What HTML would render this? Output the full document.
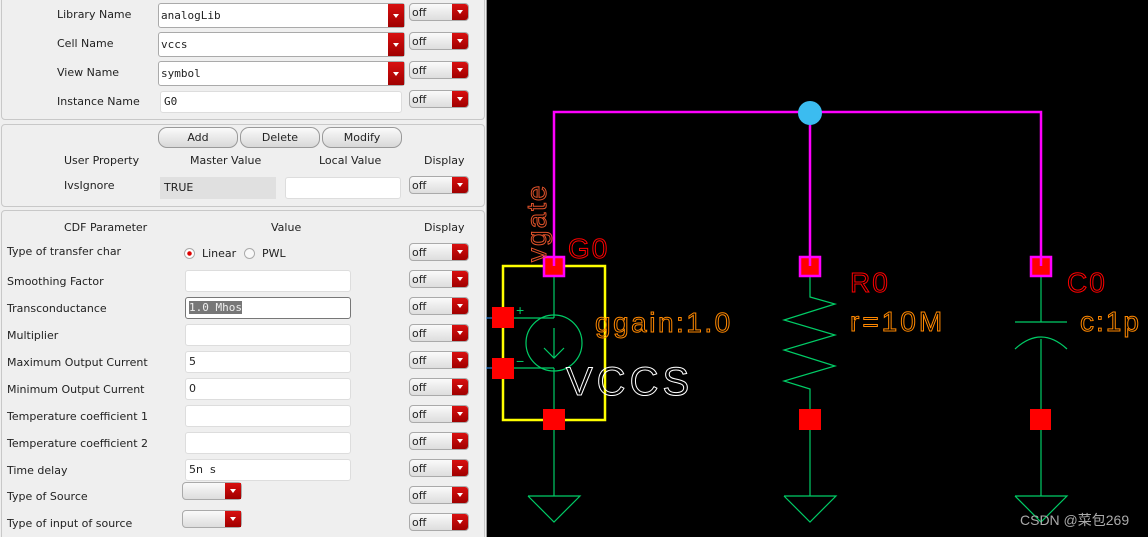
<!DOCTYPE html>
<html><head><meta charset="utf-8"><style>
html,body{margin:0;width:1148px;height:537px;overflow:hidden}
body{background:#000;position:relative;font-family:"DejaVu Sans","Liberation Sans",sans-serif;font-size:11px;color:#222}
.a{position:absolute}
#left{position:absolute;left:0;top:0;width:487px;height:537px;background:#efefef;border-right:1px solid #999;box-sizing:border-box;overflow:hidden}
.pan{position:absolute;left:1px;width:484px;border:1px solid #c8c8c8;border-radius:4px;box-sizing:border-box}
.off{position:absolute;left:409px;width:60px;height:18px;border:1px solid #aaa;border-radius:4px;box-sizing:border-box;background:linear-gradient(#fafafa,#ddd);overflow:hidden;font-size:11px;line-height:17px;padding-left:2px}
.off:after,.dd:after{content:"";position:absolute;right:0;top:0;width:16px;height:100%;background:linear-gradient(#d81010,#a00000)}
.off:before,.dd:before{content:"";position:absolute;right:5px;top:6px;border-left:3px solid transparent;border-right:3px solid transparent;border-top:4px solid #fff;z-index:2}
.dd{position:absolute;width:60px;height:18px;border:1px solid #aaa;border-radius:4px;box-sizing:border-box;background:linear-gradient(#fafafa,#ddd)}
.cb{position:absolute;left:158px;width:247px;height:25px;border:1px solid #aaa;border-radius:3px;box-sizing:border-box;background:#fff;font-family:"DejaVu Sans Mono","Liberation Mono",monospace;font-size:11px;line-height:23px;padding-left:2px}
.cb:after{content:"";position:absolute;right:0;top:0;width:16px;height:100%;background:linear-gradient(#d81010,#a00000)}
.cb:before{content:"";position:absolute;right:5px;top:10px;border-left:3px solid transparent;border-right:3px solid transparent;border-top:4px solid #fff;z-index:2}
.f{position:absolute;left:185px;width:166px;height:22px;background:#fff;border:1px solid #ddd;border-radius:3px;box-sizing:border-box;font-size:11px;line-height:20px;padding-left:3px}
.btn{position:absolute;top:127px;height:21px;border:1px solid #999;border-radius:9px;background:linear-gradient(#fafafa,#d8d8d8);box-sizing:border-box;text-align:center;line-height:19px}
.l{position:absolute;left:7px}
</style></head><body>
<div id="left">
<div class="pan" style="top:-4px;height:124px"></div>
<div class="pan" style="top:124px;height:83px"></div>
<div class="pan" style="top:210px;height:340px"></div>
<div class="a" style="left:57px;top:8px">Library Name</div>
<div class="a" style="left:57px;top:37px">Cell Name</div>
<div class="a" style="left:57px;top:66px">View Name</div>
<div class="a" style="left:57px;top:95px">Instance Name</div>
<div class="cb" style="top:3px">analogLib</div>
<div class="cb" style="top:32px">vccs</div>
<div class="cb" style="top:61px">symbol</div>
<div class="f" style="left:160px;top:91px;width:242px;font-family:'DejaVu Sans Mono',monospace">G0</div>
<div class="off" style="top:3px">off</div>
<div class="off" style="top:32px">off</div>
<div class="off" style="top:61px">off</div>
<div class="off" style="top:90px">off</div>
<div class="btn" style="left:158px;width:80px">Add</div>
<div class="btn" style="left:240px;width:80px">Delete</div>
<div class="btn" style="left:322px;width:80px">Modify</div>
<div class="a" style="left:64px;top:154px">User Property</div>
<div class="a" style="left:190px;top:154px">Master Value</div>
<div class="a" style="left:319px;top:154px">Local Value</div>
<div class="a" style="left:424px;top:154px">Display</div>
<div class="a" style="left:64px;top:179px">IvsIgnore</div>
<div class="a" style="left:160px;top:177px;width:116px;height:22px;background:#e0e0e0;line-height:22px;padding-left:4px;box-sizing:border-box">TRUE</div>
<div class="f" style="left:285px;top:177px;width:116px"></div>
<div class="off" style="top:176px">off</div>
<div class="a" style="left:64px;top:221px">CDF Parameter</div>
<div class="a" style="left:271px;top:221px">Value</div>
<div class="a" style="left:424px;top:221px">Display</div>
<div class="l" style="top:245px">Type of transfer char</div>
<div class="a" style="left:184px;top:248px;width:11px;height:11px;border-radius:50%;background:radial-gradient(#d00 30%,#fff 40%);border:1px solid #aaa;box-sizing:border-box"></div>
<div class="a" style="left:202px;top:247px">Linear</div>
<div class="a" style="left:244px;top:248px;width:11px;height:11px;border-radius:50%;background:#f8f8f8;border:1px solid #aaa;box-sizing:border-box"></div>
<div class="a" style="left:262px;top:247px">PWL</div>
<div class="l" style="top:275px">Smoothing Factor</div>
<div class="l" style="top:302px">Transconductance</div>
<div class="l" style="top:329px">Multiplier</div>
<div class="l" style="top:356px">Maximum Output Current</div>
<div class="l" style="top:383px">Minimum Output Current</div>
<div class="l" style="top:410px">Temperature coefficient 1</div>
<div class="l" style="top:437px">Temperature coefficient 2</div>
<div class="l" style="top:464px">Time delay</div>
<div class="l" style="top:490px">Type of Source</div>
<div class="l" style="top:517px">Type of input of source</div>
<div class="f" style="top:270px"></div>
<div class="f" style="top:297px;border:1px solid #777;font-family:'DejaVu Sans Mono',monospace"><span style="background:#777;color:#eee">1.0 Mhos</span></div>
<div class="f" style="top:324px"></div>
<div class="f" style="top:351px">5</div>
<div class="f" style="top:378px">0</div>
<div class="f" style="top:405px"></div>
<div class="f" style="top:432px"></div>
<div class="f" style="top:459px">5n &nbsp;s</div>
<div class="dd" style="left:182px;top:482px"></div>
<div class="dd" style="left:182px;top:510px"></div>
<div class="off" style="top:243px">off</div>
<div class="off" style="top:270px">off</div>
<div class="off" style="top:297px">off</div>
<div class="off" style="top:324px">off</div>
<div class="off" style="top:351px">off</div>
<div class="off" style="top:378px">off</div>
<div class="off" style="top:405px">off</div>
<div class="off" style="top:432px">off</div>
<div class="off" style="top:459px">off</div>
<div class="off" style="top:486px">off</div>
<div class="off" style="top:513px">off</div>
</div>
<svg class="a" style="left:0;top:0" width="1148" height="537" font-family="Liberation Sans, sans-serif">
<g stroke="#00cc66" stroke-width="1.2" fill="none">
<line x1="554" y1="277" x2="554" y2="318"/><line x1="554" y1="368" x2="554" y2="496"/>
<line x1="514" y1="318" x2="554" y2="318"/><line x1="514" y1="368" x2="554" y2="368"/>
<circle cx="554" cy="343" r="28"/>
<line x1="554" y1="328" x2="554" y2="358"/><polyline points="544,348 554,358 564,348"/>
<polyline points="528,496 580,496 554,522 528,496"/>
<polyline points="810,277 810,297 835,304 784,320 835,335 784,350 835,366 784,381 810,389 810,496"/>
<polyline points="784,496 836,496 810,522 784,496"/>
<line x1="1041" y1="277" x2="1041" y2="322"/><line x1="1015" y1="322" x2="1067" y2="322"/>
<path d="M1015 349 Q1041 325 1067 349"/><line x1="1041" y1="339" x2="1041" y2="496"/>
<polyline points="1015,496 1067,496 1041,522 1015,496"/>
</g>
<line x1="486" y1="318" x2="492" y2="318" stroke="#39f"/><line x1="486" y1="368" x2="492" y2="368" stroke="#39f"/>
<text x="516" y="315" fill="#00cc66" font-size="14">+</text><text x="516" y="366" fill="#00cc66" font-size="14">−</text>
<rect x="503" y="266" width="102" height="154" fill="none" stroke="#ffff00" stroke-width="2.5"/>
<polyline points="554,266 554,112 1041,112 1041,266" fill="none" stroke="#ff00ff" stroke-width="2.5"/>
<line x1="810" y1="112" x2="810" y2="266" stroke="#ff00ff" stroke-width="2.5"/>
<circle cx="810" cy="113" r="12" fill="#3bbcf0"/>
<g fill="#ff0000" stroke="#ff00ff" stroke-width="2.5">
<rect x="544" y="257" width="20" height="19"/><rect x="800" y="257" width="20" height="19"/><rect x="1031" y="257" width="20" height="19"/>
</g>
<g stroke="#ff00ff" stroke-width="2.5"><line x1="554" y1="257" x2="554" y2="266"/><line x1="810" y1="257" x2="810" y2="266"/><line x1="1041" y1="257" x2="1041" y2="266"/></g>
<g fill="#ff0000">
<rect x="543" y="409" width="22" height="21"/><rect x="799" y="409" width="22" height="21"/><rect x="1030" y="409" width="21" height="21"/>
<rect x="492" y="307" width="22" height="21"/><rect x="492" y="358" width="22" height="21"/>
</g>
<g fill="none" stroke-width="1">
<text transform="translate(546,262) rotate(-90)" stroke="#e0522a" font-size="28" letter-spacing="2">vgate</text>
<text x="568" y="258" stroke="#ff0000" font-size="28" letter-spacing="2">G0</text>
<text x="595" y="332" stroke="#ff8800" font-size="28" letter-spacing="2.5">ggain:1.0</text>
<text x="566" y="395" stroke="#fff" font-size="40" letter-spacing="4">VCCS</text>
<text x="850" y="292" stroke="#ff0000" font-size="28" letter-spacing="2">R0</text>
<text x="850" y="331" stroke="#ff8800" font-size="28" letter-spacing="3">r=10M</text>
<text x="1067" y="292" stroke="#ff0000" font-size="28" letter-spacing="2">C0</text>
<text x="1080" y="331" stroke="#ff8800" font-size="28" letter-spacing="2">c:1p</text>
</g>
<text x="1020" y="525" fill="#aaa" font-size="14" font-family="Liberation Sans, Noto Sans CJK SC, sans-serif">CSDN @菜包269</text>
</svg>
</body></html>
